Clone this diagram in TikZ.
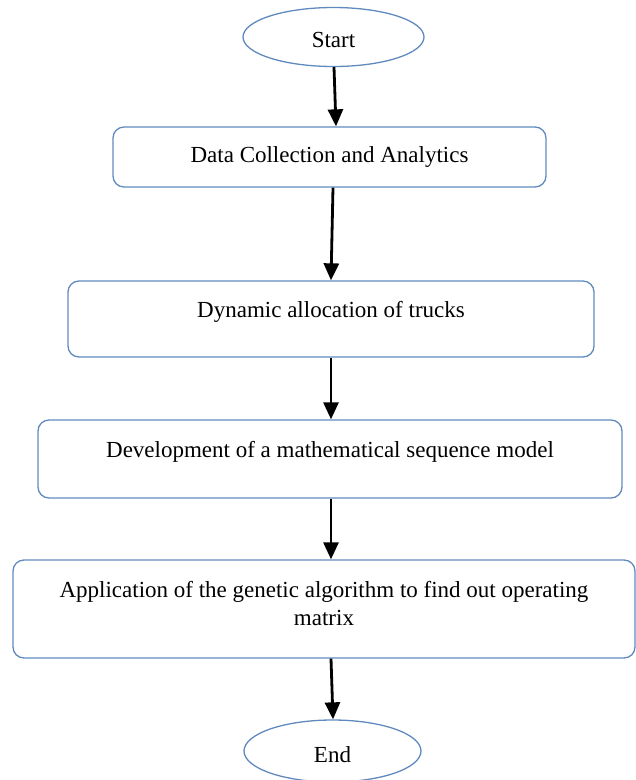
\documentclass[tikz,border=0pt]{standalone}
\usepackage{fontspec}
\setmainfont{Liberation Serif}
\usetikzlibrary{shapes.geometric,arrows.meta}
\definecolor{boxblue}{RGB}{96,138,190}
\newcommand{\placetext}[2]{\raisebox{#1}[0pt][0pt]{#2}}
\tikzset{
  every node/.style={font=\fontsize{23}{28}\selectfont, text=black},
  term/.style={ellipse, draw=boxblue, line width=1.3pt, inner sep=0pt},
  stepbox/.style={rectangle, rounded corners=11pt, draw=boxblue, line width=1.3pt, inner sep=0pt, align=center},
  flow/.style={line width=2.8pt, -{Triangle[length=17pt,width=15pt]}}
}
\begin{document}
\begin{tikzpicture}[x=1pt,y=-1pt]
\useasboundingbox (0,0) rectangle (636,780);
\node[term, minimum width=181pt, minimum height=59pt] (start) at (333.5,37) {\placetext{-10.5pt}{Start}};
\node[stepbox, minimum width=433pt, minimum height=60pt] (b1) at (329.5,157) {\placetext{-5.5pt}{Data Collection and Analytics}};
\node[stepbox, minimum width=526pt, minimum height=76pt] (b2) at (331,319) {\placetext{1.5pt}{Dynamic allocation of trucks}};
\node[stepbox, minimum width=584pt, minimum height=78pt] (b3) at (330,459) {\placetext{1.5pt}{Development of a mathematical sequence model}};
\node[stepbox, minimum width=622pt, minimum height=98pt] (b4) at (324,609) {\placetext{-16.5pt}{\parbox[b]{610pt}{\centering Application of the genetic algorithm to find out operating\\ matrix}}};
\node[term, minimum width=177pt, minimum height=62pt] (end) at (332.5,751) {\placetext{-11.5pt}{End}};
\draw[flow] ([xshift=0.5pt]start.south) -- ([xshift=6.5pt]b1.north);
\draw[flow] ([xshift=3.5pt]b1.south) -- ([xshift=0pt]b2.north);
\draw[flow] ([xshift=0pt]b2.south) -- ([xshift=1pt]b3.north);
\draw[flow] ([xshift=1pt]b3.south) -- ([xshift=7pt]b4.north);
\draw[flow] ([xshift=7pt]b4.south) -- ([xshift=0.5pt]end.north);
\end{tikzpicture}
\end{document}
